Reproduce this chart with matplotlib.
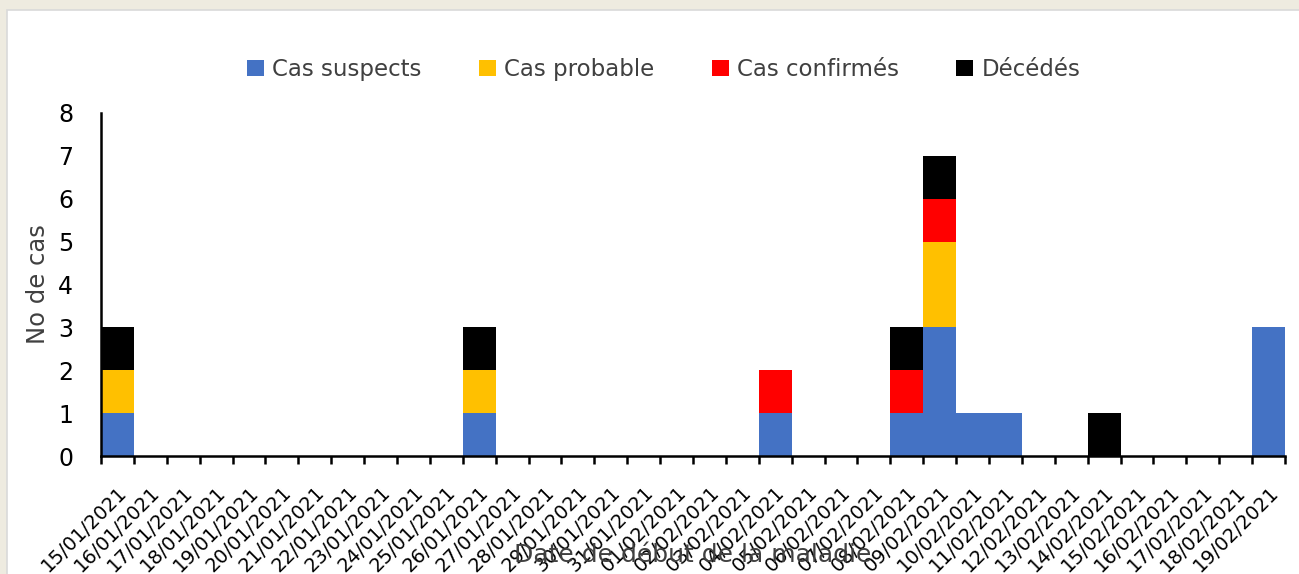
import numpy as np
import matplotlib
matplotlib.use("Agg")
import matplotlib.pyplot as plt
from matplotlib.patches import Rectangle

# dates de début de la maladie
dates = ["15/01/2021", "16/01/2021", "17/01/2021", "18/01/2021", "19/01/2021",
         "20/01/2021", "21/01/2021", "22/01/2021", "23/01/2021", "24/01/2021",
         "25/01/2021", "26/01/2021", "27/01/2021", "28/01/2021", "29/01/2021",
         "30/01/2021", "31/01/2021", "01/02/2021", "02/02/2021", "03/02/2021",
         "04/02/2021", "05/02/2021", "06/02/2021", "07/02/2021", "08/02/2021",
         "09/02/2021", "10/02/2021", "11/02/2021", "12/02/2021", "13/02/2021",
         "14/02/2021", "15/02/2021", "16/02/2021", "17/02/2021", "18/02/2021",
         "19/02/2021"]

# nombre de cas par jour
suspects  = [1, 0, 0, 0, 0, 0, 0, 0, 0, 0, 0, 1, 0, 0, 0, 0, 0, 0,
             0, 0, 1, 0, 0, 0, 1, 3, 1, 1, 0, 0, 0, 0, 0, 0, 0, 3]
probable  = [1, 0, 0, 0, 0, 0, 0, 0, 0, 0, 0, 1, 0, 0, 0, 0, 0, 0,
             0, 0, 0, 0, 0, 0, 0, 2, 0, 0, 0, 0, 0, 0, 0, 0, 0, 0]
confirmes = [0, 0, 0, 0, 0, 0, 0, 0, 0, 0, 0, 0, 0, 0, 0, 0, 0, 0,
             0, 0, 1, 0, 0, 0, 1, 1, 0, 0, 0, 0, 0, 0, 0, 0, 0, 0]
deces     = [1, 0, 0, 0, 0, 0, 0, 0, 0, 0, 0, 1, 0, 0, 0, 0, 0, 0,
             0, 0, 0, 0, 0, 0, 1, 1, 0, 0, 0, 0, 1, 0, 0, 0, 0, 0]

series = [("Cas suspects", suspects, "#4472C4"),
          ("Cas probable", probable, "#FFC000"),
          ("Cas confirmés", confirmes, "#FF0000"),
          ("Décédés", deces, "#000000")]

fig = plt.figure(figsize=(12.99, 5.74), dpi=100)
fig.patch.set_facecolor("#EEEBE0")
# panneau blanc du graphique
fig.patches.append(Rectangle((7 / 1299, -0.05), 1.1, (574 - 10) / 574 + 0.05,
                             transform=fig.transFigure, facecolor="white",
                             edgecolor="#D9D9D9", linewidth=1.2, zorder=-10))

ax = fig.add_axes([101 / 1299, (574 - 456) / 574, (1285 - 101) / 1299, 343 / 574])
ax.set_facecolor("none")

x = np.arange(len(dates))
bottom = np.zeros(len(dates))
for label, vals, color in series:
    vals = np.array(vals, dtype=float)
    ax.bar(x, vals, width=1.0, bottom=bottom, color=color, label=label,
           linewidth=0)
    bottom += vals

ax.set_xlim(-0.5, len(dates) - 0.5)
ax.set_ylim(0, 8)

# ticks aux limites des catégories, étiquettes au centre
ax.set_xticks(np.arange(-0.5, len(dates), 1.0))
ax.set_xticklabels([])
ax.set_xticks(x, minor=True)
ax.set_xticklabels(dates, minor=True, rotation=45, ha="right", va="top",
                   rotation_mode="anchor", fontsize=14)
ax.tick_params(axis="x", which="major", length=6, width=1.8, direction="out", color="black")
ax.tick_params(axis="x", which="minor", length=0, pad=19)

ax.set_yticks(range(0, 9))
ax.tick_params(axis="y", length=0, pad=20, labelsize=17)

for s in ["top", "right"]:
    ax.spines[s].set_visible(False)
ax.spines["left"].set_linewidth(1.8)
ax.spines["bottom"].set_linewidth(1.8)

ax.set_ylabel("No de cas", fontsize=17.5, color="#404040", labelpad=6)
ax.set_xlabel("Date de début de la maladie", fontsize=18, color="#404040")
ax.xaxis.set_label_coords(0.5, -0.255)

handles, labels = ax.get_legend_handles_labels()
fig.legend(handles, labels, loc="upper center", bbox_to_anchor=(0.511, 0.935),
           ncol=4, frameon=False, fontsize=16.5, handlelength=0.75, handleheight=0.75,
           handletextpad=0.35, columnspacing=2.5, labelcolor="#404040")

fig.savefig("out.png", dpi=100, facecolor=fig.get_facecolor())
